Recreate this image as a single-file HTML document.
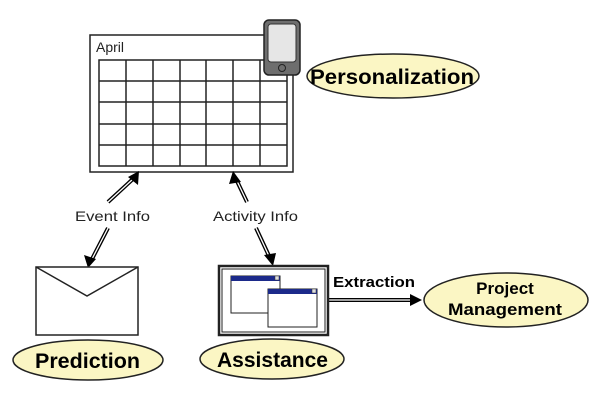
<!DOCTYPE html>
<html><head><style>body{margin:0;background:#fff}svg{display:block}</style></head><body>
<svg width="600" height="400" viewBox="0 0 600 400" xmlns="http://www.w3.org/2000/svg" font-family="'Liberation Sans','DejaVu Sans',sans-serif">
<!-- calendar -->
<rect x="90" y="35" width="203" height="137" fill="#fff" stroke="#222" stroke-width="1.5"/>
<text x="96" y="52" font-size="14" fill="#222">April</text>
<g stroke="#222" stroke-width="1.5" fill="none">
<rect x="99" y="60" width="188" height="106"/>
<line x1="126" y1="60" x2="126" y2="166"/><line x1="153" y1="60" x2="153" y2="166"/><line x1="180" y1="60" x2="180" y2="166"/><line x1="206" y1="60" x2="206" y2="166"/><line x1="233" y1="60" x2="233" y2="166"/><line x1="260" y1="60" x2="260" y2="166"/>
<line x1="99" y1="81" x2="287" y2="81"/><line x1="99" y1="102" x2="287" y2="102"/><line x1="99" y1="124" x2="287" y2="124"/><line x1="99" y1="145" x2="287" y2="145"/>
</g>
<!-- phone -->
<rect x="264" y="20" width="36" height="55" rx="5" fill="#6e6e6e" stroke="#222" stroke-width="1.5"/>
<rect x="268" y="24" width="28" height="38" rx="3" fill="#e6e6e6" stroke="#333"/>
<circle cx="282" cy="68" r="3.5" fill="none" stroke="#222"/>
<ellipse cx="393" cy="76" rx="86" ry="22" fill="#fbf6c4" stroke="#222" stroke-width="1.5"/>
<text x="310" y="84" font-size="21" font-weight="bold" textLength="164" lengthAdjust="spacingAndGlyphs">Personalization</text>
<!-- arrows -->
<g>
<line x1="108" y1="202" x2="134" y2="178" stroke="#000" stroke-width="4"/><line x1="108" y1="202" x2="133" y2="179" stroke="#fff" stroke-width="1.3"/>
<path d="M139,171 L138,185 L128,177z" fill="#000"/>
<line x1="108" y1="228" x2="91" y2="261" stroke="#000" stroke-width="4"/><line x1="108" y1="228" x2="92" y2="259" stroke="#fff" stroke-width="1.3"/>
<path d="M88,268 L84,255 L96,259z" fill="#000"/>
<text x="75" y="221" font-size="14" fill="#222" textLength="75" lengthAdjust="spacingAndGlyphs">Event Info</text>
<line x1="247" y1="202" x2="236" y2="179" stroke="#000" stroke-width="4"/><line x1="247" y1="202" x2="237" y2="181" stroke="#fff" stroke-width="1.3"/>
<path d="M233,171 L241,182 L229,184z" fill="#000"/>
<line x1="256" y1="228" x2="270" y2="258" stroke="#000" stroke-width="4"/><line x1="256" y1="228" x2="269" y2="256" stroke="#fff" stroke-width="1.3"/>
<path d="M273,266 L264,255 L276,253z" fill="#000"/>
<text x="213" y="221" font-size="14" fill="#222" textLength="85" lengthAdjust="spacingAndGlyphs">Activity Info</text>
<line x1="328" y1="300" x2="412" y2="300" stroke="#000" stroke-width="4"/><line x1="329" y1="300" x2="412" y2="300" stroke="#fff" stroke-width="1.3"/>
<path d="M422,300 L410,294 L410,306z" fill="#000"/>
<text x="333" y="287" font-size="15" font-weight="bold" textLength="82" lengthAdjust="spacingAndGlyphs">Extraction</text>
</g>
<!-- envelope -->
<rect x="36" y="267" width="102" height="68" fill="#fff" stroke="#222" stroke-width="1.5"/>
<polyline points="36,267 87,296 138,267" fill="none" stroke="#222" stroke-width="1.5"/>
<ellipse cx="88" cy="360" rx="75" ry="20" fill="#fbf6c4" stroke="#222" stroke-width="1.5"/>
<text x="35" y="368" font-size="21" font-weight="bold" textLength="105" lengthAdjust="spacingAndGlyphs">Prediction</text>
<!-- assistance box -->
<rect x="219" y="266" width="109" height="69" fill="#fff" stroke="#222" stroke-width="2.5"/>
<rect x="222" y="269" width="103" height="63" fill="none" stroke="#222" stroke-width="1"/>
<rect x="231" y="276" width="49" height="37" fill="#fff" stroke="#222"/>
<rect x="231" y="276" width="49" height="5" fill="#1c2a8a"/>
<rect x="275" y="276" width="4" height="4" fill="#ddd" stroke="#333" stroke-width=".5"/>
<rect x="268" y="289" width="49" height="38" fill="#fff" stroke="#222"/>
<rect x="268" y="289" width="49" height="5" fill="#1c2a8a"/>
<rect x="312" y="289" width="4" height="4" fill="#ddd" stroke="#333" stroke-width=".5"/>
<ellipse cx="272" cy="359" rx="72" ry="20" fill="#fbf6c4" stroke="#222" stroke-width="1.5"/>
<text x="217" y="367" font-size="21" font-weight="bold" textLength="111" lengthAdjust="spacingAndGlyphs">Assistance</text>
<ellipse cx="506" cy="300" rx="82" ry="27" fill="#fbf6c4" stroke="#222" stroke-width="1.5"/>
<text x="505" y="294" font-size="17" font-weight="bold" text-anchor="middle">Project</text>
<text x="448" y="315" font-size="17" font-weight="bold" textLength="114" lengthAdjust="spacingAndGlyphs">Management</text>
</svg>
</body></html>
